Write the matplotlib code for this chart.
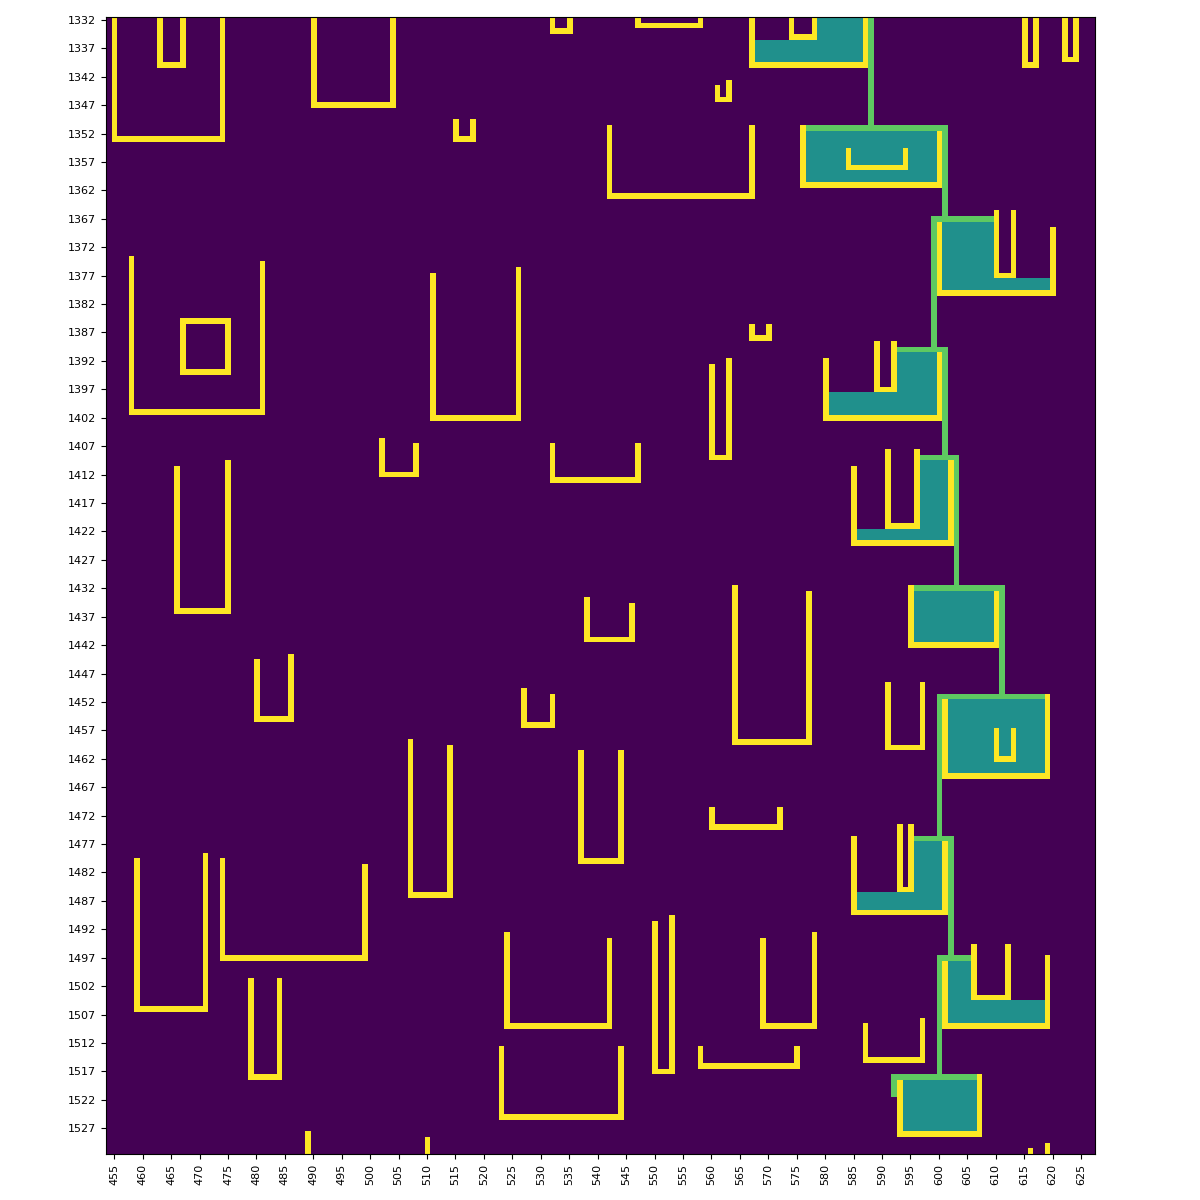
import numpy as np
import matplotlib
matplotlib.use("Agg")
import matplotlib.pyplot as plt

# grid window
X_MIN, X_MAX = 454, 627
Y_MIN, Y_MAX = 1332, 1531

# cell codes (viridis, vmin=0, vmax=4)
SAND, STILL, FLOW, CLAY = 0, 2, 3, 4

# clay veins: vertical (x, y_from, y_to)
clay_vertical = [
    (455, 1332, 1353), (474, 1332, 1353), (463, 1332, 1340), (467, 1332, 1340),
    (490, 1332, 1347), (504, 1332, 1347), (532, 1332, 1334), (535, 1332, 1334),
    (547, 1332, 1333), (558, 1332, 1333), (567, 1332, 1340), (587, 1332, 1340),
    (574, 1332, 1335), (578, 1332, 1335), (615, 1332, 1340), (617, 1332, 1340),
    (622, 1332, 1339), (624, 1332, 1339), (561, 1344, 1346), (563, 1343, 1346),
    (515, 1350, 1353), (518, 1350, 1353), (542, 1351, 1363), (567, 1351, 1363),
    (576, 1351, 1361), (600, 1352, 1361), (584, 1355, 1358), (594, 1355, 1358),
    (600, 1368, 1380), (620, 1369, 1380), (610, 1366, 1377), (613, 1366, 1377),
    (458, 1374, 1401), (481, 1375, 1401), (467, 1385, 1394), (475, 1385, 1394),
    (511, 1377, 1402), (526, 1376, 1402), (567, 1386, 1388), (570, 1386, 1388),
    (580, 1392, 1402), (600, 1391, 1402), (589, 1389, 1397), (592, 1389, 1397),
    (560, 1393, 1409), (563, 1392, 1409), (502, 1406, 1412), (508, 1407, 1412),
    (532, 1407, 1413), (547, 1407, 1413), (466, 1411, 1436), (475, 1410, 1436),
    (585, 1411, 1424), (602, 1410, 1424), (591, 1408, 1421), (596, 1408, 1421),
    (595, 1432, 1442), (610, 1433, 1442), (564, 1432, 1459), (577, 1433, 1459),
    (538, 1434, 1441), (546, 1435, 1441), (480, 1445, 1455), (486, 1444, 1455),
    (527, 1450, 1456), (532, 1451, 1456), (591, 1449, 1460), (597, 1449, 1460),
    (601, 1452, 1465), (619, 1451, 1465), (610, 1457, 1462), (613, 1457, 1462),
    (507, 1459, 1486), (514, 1460, 1486), (537, 1461, 1480), (544, 1461, 1480),
    (560, 1471, 1474), (572, 1471, 1474), (585, 1476, 1489), (601, 1477, 1489),
    (593, 1474, 1485), (595, 1474, 1485), (459, 1480, 1506), (471, 1479, 1506),
    (474, 1480, 1497), (499, 1481, 1497), (524, 1493, 1509), (542, 1494, 1509),
    (550, 1491, 1517), (553, 1490, 1517), (569, 1494, 1509), (578, 1493, 1509),
    (601, 1498, 1509), (619, 1497, 1509), (606, 1495, 1504), (612, 1495, 1504),
    (479, 1501, 1518), (484, 1501, 1518), (587, 1509, 1515), (597, 1508, 1515),
    (523, 1513, 1525), (544, 1513, 1525), (558, 1513, 1516), (575, 1513, 1516),
    (593, 1519, 1528), (607, 1518, 1528), (489, 1528, 1531), (510, 1529, 1531),
    (616, 1531, 1531), (619, 1530, 1531),
]

# clay veins: horizontal (y, x_from, x_to)
clay_horizontal = [
    (1353, 455, 474), (1340, 463, 467), (1347, 490, 504), (1334, 532, 535),
    (1333, 547, 558), (1340, 567, 587), (1335, 574, 578), (1340, 615, 617),
    (1339, 622, 624), (1346, 561, 563), (1353, 515, 518), (1363, 542, 567),
    (1361, 576, 600), (1358, 584, 594), (1380, 600, 620), (1377, 610, 613),
    (1401, 458, 481), (1385, 467, 475), (1394, 467, 475), (1402, 511, 526),
    (1388, 567, 570), (1402, 580, 600), (1397, 589, 592), (1409, 560, 563),
    (1412, 502, 508), (1413, 532, 547), (1436, 466, 475), (1424, 585, 602),
    (1421, 591, 596), (1442, 595, 610), (1459, 564, 577), (1441, 538, 546),
    (1455, 480, 486), (1456, 527, 532), (1460, 591, 597), (1465, 601, 619),
    (1462, 610, 613), (1486, 507, 514), (1480, 537, 544), (1474, 560, 572),
    (1489, 585, 601), (1485, 593, 595), (1506, 459, 471), (1497, 474, 499),
    (1509, 524, 542), (1517, 550, 553), (1509, 569, 578), (1509, 601, 619),
    (1504, 606, 612), (1518, 479, 484), (1515, 587, 597), (1525, 523, 544),
    (1516, 558, 575), (1528, 593, 607),
]

# water at rest: (x_from, x_to, y_from, y_to)
still_water = [
    (568, 586, 1336, 1339), (579, 586, 1332, 1335), (577, 599, 1352, 1360),
    (601, 609, 1368, 1379), (610, 619, 1378, 1379), (593, 599, 1391, 1401),
    (581, 599, 1398, 1401), (597, 601, 1410, 1423), (586, 601, 1422, 1423),
    (596, 609, 1433, 1441), (602, 618, 1452, 1464), (596, 600, 1477, 1488),
    (586, 600, 1486, 1488), (602, 605, 1498, 1508), (602, 618, 1505, 1508),
    (594, 606, 1519, 1527),
]

# flowing water: vertical (x, y_from, y_to) and horizontal (y, x_from, x_to)
flow_vertical = [
    (588, 1332, 1350), (601, 1351, 1367), (599, 1367, 1389), (601, 1390, 1408),
    (603, 1409, 1431), (611, 1432, 1450), (600, 1451, 1475), (602, 1476, 1496),
    (600, 1497, 1517), (592, 1518, 1521),
]
flow_horizontal = [
    (1351, 577, 601), (1367, 599, 609), (1390, 593, 601), (1409, 597, 603),
    (1432, 596, 611), (1451, 600, 618), (1476, 596, 602), (1497, 600, 605),
    (1518, 592, 606),
]

grid = np.full((Y_MAX - Y_MIN + 1, X_MAX - X_MIN + 1), SAND, dtype=float)

def fill(x0, x1, y0, y1, val):
    grid[y0 - Y_MIN:y1 - Y_MIN + 1, x0 - X_MIN:x1 - X_MIN + 1] = val

for x0, x1, y0, y1 in still_water:
    fill(x0, x1, y0, y1, STILL)
for x, y0, y1 in flow_vertical:
    fill(x, x, y0, y1, FLOW)
for y, x0, x1 in flow_horizontal:
    fill(x0, x1, y, y, FLOW)
for x, y0, y1 in clay_vertical:
    fill(x, x, y0, y1, CLAY)
for y, x0, x1 in clay_horizontal:
    fill(x0, x1, y, y, CLAY)

fig = plt.figure(figsize=(12, 12), dpi=100)
ax = fig.add_axes([0.0881, 0.0385, 0.8246, 0.9473])
ax.imshow(grid, cmap="viridis", vmin=0, vmax=4, interpolation="nearest",
          aspect="auto",
          extent=(X_MIN - 0.5, X_MAX + 0.5, Y_MAX + 0.5, Y_MIN - 0.5))

ax.set_xticks(range(455, 626, 5))
ax.set_xticklabels([str(v) for v in range(455, 626, 5)], rotation=90, fontsize=8)
ax.set_yticks(range(1332, 1528, 5))
ax.set_yticklabels([str(v) for v in range(1332, 1528, 5)], fontsize=8)

fig.savefig("out.png", dpi=100)
